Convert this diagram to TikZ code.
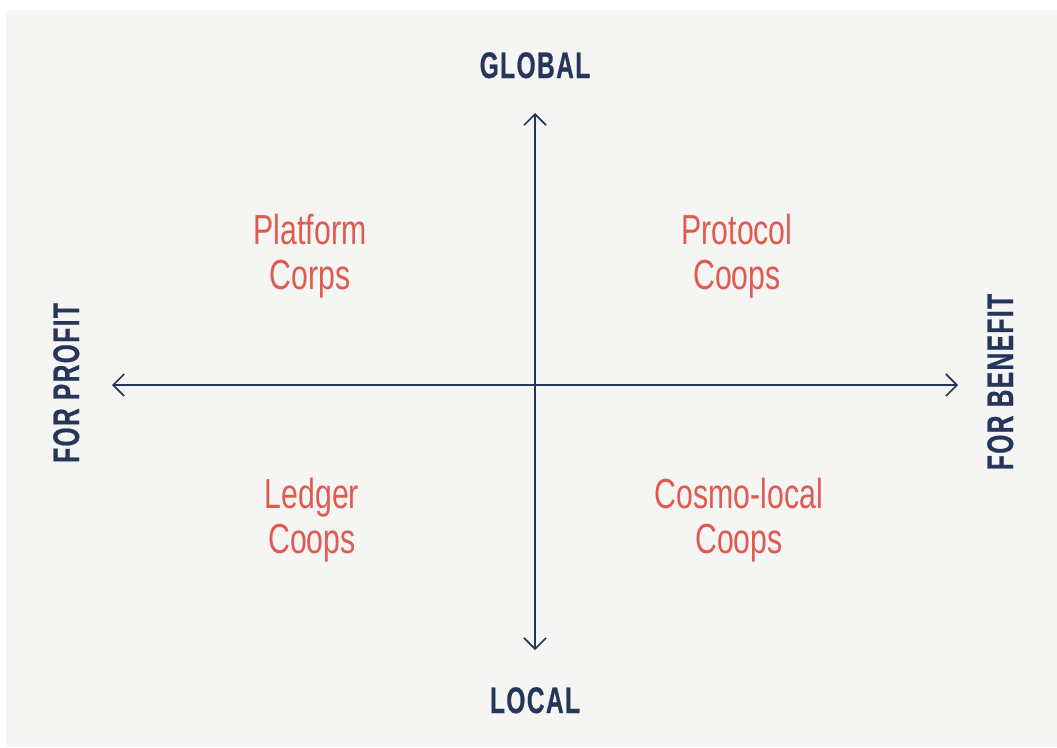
\documentclass[tikz,border=0pt]{standalone}
\usepackage{fontspec}
\usetikzlibrary{arrows.meta,positioning}
\newfontfamily\polefont[FakeStretch=0.66,LetterSpace=4,FakeBold=0.6]{Liberation Sans Bold}
\newfontfamily\quadfont[FakeStretch=0.72]{Liberation Sans}
\definecolor{paper}{HTML}{F5F5F3}
\definecolor{navy}{HTML}{26365A}
\definecolor{coral}{HTML}{E05A52}
\tikzset{axis/.style={draw=navy,line width=1.6pt,
  {Straight Barb[length=11pt,width=22pt]}-{Straight Barb[length=11pt,width=22pt]}}}

\begin{document}
\begin{tikzpicture}[x=1pt,y=-1pt,
pole/.style={navy,inner sep=0pt,font=\polefont\fontsize{37}{40}\selectfont},
quad/.style={coral,align=center,inner sep=0pt,font=\quadfont\fontsize{42}{45}\selectfont}]
\useasboundingbox (0,0) rectangle (1057,747);
\fill[paper] (6,10) rectangle (1057,747);
% axes
\coordinate (top) at (535,113);
\coordinate (bottom) at (535,650);
\coordinate (left) at (112,385);
\coordinate (right) at (958,385);
\draw[axis] (top) -- (bottom);
\draw[axis] (left) -- (right);
% poles
\node[pole,anchor=base] (global) at (535,78) {GLOBAL};
\node[pole,anchor=base] (local) at (535,713) {LOCAL};
\node[pole,anchor=base,rotate=90] (profit) at (79,383) {FOR PROFIT};
\node[pole,anchor=base,rotate=90] (benefit) at (1013,382) {FOR BENEFIT};
% quadrants
\node[quad] (platform) at (310,256) {Platform\\Corps};
\node[quad] (protocol) at (737,256) {Protocol\\Coops};
\node[quad] (ledger) at (312,520) {Ledger\\Coops};
\node[quad] (cosmo) at (739,520) {Cosmo-local\\Coops};
\end{tikzpicture}
\end{document}
